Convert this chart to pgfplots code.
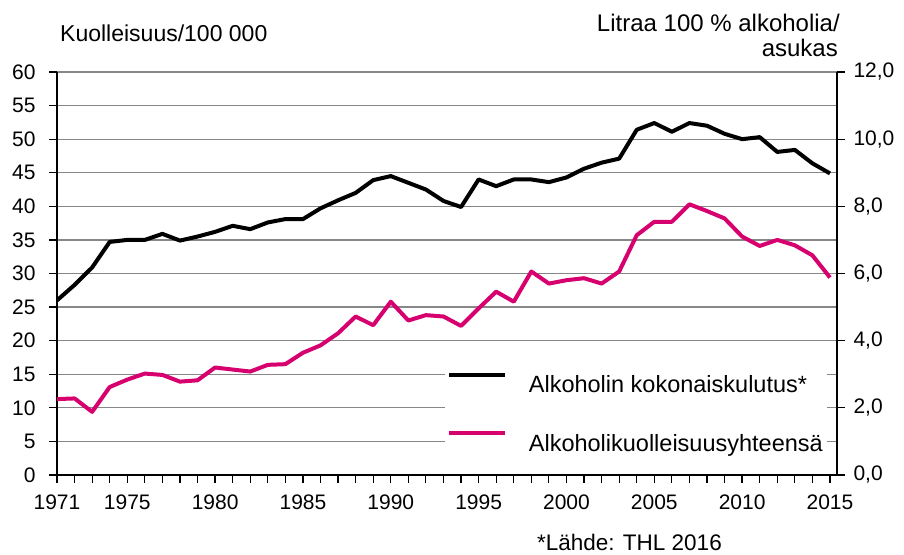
\documentclass[border=0pt]{standalone}
\usepackage{fontspec}
\setmainfont{Liberation Sans}
\usepackage{pgfplots}
\pgfplotsset{compat=1.18}
\definecolor{pinkline}{RGB}{214,0,110}
\definecolor{gridgray}{RGB}{135,135,135}

\pgfplotstableread{
year mort
1971 11.3
1972 11.4
1973 9.4
1974 13.1
1975 14.2
1976 15.1
1977 14.9
1978 13.9
1979 14.1
1980 16.0
1981 15.7
1982 15.4
1983 16.4
1984 16.5
1985 18.2
1986 19.3
1987 21.1
1988 23.6
1989 22.3
1990 25.8
1991 23.0
1992 23.8
1993 23.6
1994 22.2
1995 24.8
1996 27.3
1997 25.8
1998 30.3
1999 28.5
2000 29.0
2001 29.3
2002 28.5
2003 30.3
2004 35.7
2005 37.7
2006 37.7
2007 40.3
2008 39.3
2009 38.2
2010 35.5
2011 34.1
2012 35.0
2013 34.2
2014 32.7
2015 29.4
}\mortality

\pgfplotstableread{
year litres
1971 5.20
1972 5.66
1973 6.18
1974 6.94
1975 7.00
1976 7.00
1977 7.18
1978 6.98
1979 7.10
1980 7.24
1981 7.42
1982 7.32
1983 7.52
1984 7.62
1985 7.62
1986 7.94
1987 8.18
1988 8.40
1989 8.78
1990 8.90
1991 8.70
1992 8.50
1993 8.16
1994 7.98
1995 8.80
1996 8.60
1997 8.80
1998 8.80
1999 8.72
2000 8.86
2001 9.12
2002 9.30
2003 9.42
2004 10.28
2005 10.48
2006 10.22
2007 10.48
2008 10.40
2009 10.16
2010 10.00
2011 10.06
2012 9.62
2013 9.68
2014 9.28
2015 8.98
}\consumption

\begin{document}
\begin{tikzpicture}
\useasboundingbox (0,0) rectangle (904pt,554pt);
\pgfplotsset{
  every axis/.append style={
    at={(57pt,79pt)}, anchor=south west,
    scale only axis, width=780pt, height=403pt,
    xmin=1971, xmax=2015.4,
    tick align=outside,
    major tick length=8pt, minor tick length=8pt,
    tick style={black, line width=1.2pt},
    axis line style={black, line width=1.5pt, -},
    ticklabel style={font=\fontsize{21}{25}\selectfont},
    /pgf/number format/assume math mode=true,
  }
}
\begin{axis}[
  ymin=0, ymax=60,
  axis x line*=bottom, axis y line*=left,
  xtick={1971,1975,1980,...,2015},
  minor xtick={1971,...,2015},
  xticklabel style={font=\fontsize{21}{25}\selectfont, /pgf/number format/1000 sep={}, yshift=-8pt},
  yticklabel style={xshift=-10pt},
  ytick={0,5,...,60},
  ymajorgrids, grid style={gridgray, line width=1.2pt},
]
\addplot[pinkline, line width=4pt, line join=round] table[x=year, y=mort] {\mortality};
\end{axis}
\begin{axis}[
  ymin=0, ymax=12,
  axis x line=none, axis y line*=right,
  ytick={0,2,...,12},
  yticklabel style={/pgf/number format/.cd, fixed, fixed zerofill, precision=1, use comma, /tikz/xshift=5pt},
  legend style={at={(0.497,0.258)}, anchor=north west, fill=white, draw=none,
    font=\fontsize{23.5}{27}\selectfont, row sep=35pt, inner xsep=2pt, inner ysep=2pt},
  legend cell align=left,
  legend image code/.code={\draw[#1] (0pt,10pt) -- (56pt,10pt);},
  /tikz/every odd column/.append style={column sep=20pt},
]
\addplot[black, line width=4pt, line join=round] table[x=year, y=litres] {\consumption};
\addlegendentry{Alkoholin kokonaiskulutus*}
\addlegendimage{pinkline, line width=4pt}
\addlegendentry{Alkoholikuolleisuusyhteensä}
\end{axis}
\node[anchor=base west, font=\fontsize{23}{27}\selectfont, inner sep=0pt] at (60pt,512pt) {Kuolleisuus/100 000};
\node[anchor=base east, font=\fontsize{24}{28}\selectfont, inner sep=0pt] at (840pt,522pt) {Litraa 100 \% alkoholia/};
\node[anchor=base east, font=\fontsize{24}{28}\selectfont, inner sep=0pt] at (838pt,497pt) {asukas};
\node[anchor=base east, font=\fontsize{22.5}{26}\selectfont, inner sep=0pt] at (722pt,4pt) {*Lähde: THL 2016};
\end{tikzpicture}
\end{document}
